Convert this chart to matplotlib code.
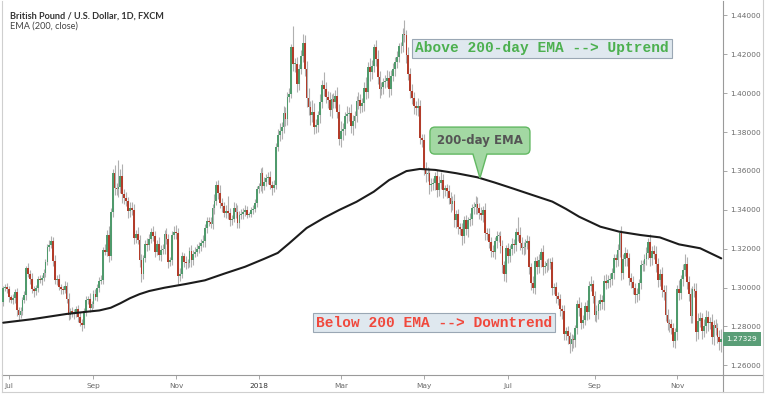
"""GBPUSD daily candles with a 200-day EMA and trend annotations."""

import matplotlib

matplotlib.use("Agg")
import matplotlib.pyplot as plt
import numpy as np
import pandas as pd
from matplotlib.lines import Line2D
from matplotlib.patches import PathPatch
from matplotlib.path import Path
from matplotlib.transforms import IdentityTransform, blended_transform_factory

# ---------------------------------------------------------------- data
first_date = "2017-06-28"
last_date = "2018-12-04"
first_open = 1.2925

# daily closes, one row per trading week (Mon..Fri)
closes = [
    1.2995, 1.3005, 1.2990,                       # Jun 28-30 2017
    1.2950, 1.2935, 1.2945, 1.2975, 1.2885,       # Jul 3
    1.2860, 1.2880, 1.2935, 1.2960, 1.3100,
    1.3070, 1.3045, 1.2990, 1.2980, 1.2995,
    1.3045, 1.3040, 1.3050, 1.3075, 1.3130,
    1.3210, 1.3220, 1.3240, 1.3135, 1.3040,       # Jul 31
    1.3045, 1.3005, 1.2990, 1.2985, 1.3010,
    1.2940, 1.2860, 1.2880, 1.2870, 1.2870,
    1.2890, 1.2850, 1.2820, 1.2805, 1.2880,
    1.2935, 1.2940, 1.2895, 1.2915, 1.2965,       # Aug 28
    1.2950, 1.3000, 1.3035, 1.3040, 1.3195,
    1.3185, 1.3270, 1.3160, 1.3390, 1.3590,
    1.3510, 1.3505, 1.3515, 1.3575, 1.3480,
    1.3460, 1.3445, 1.3395, 1.3410, 1.3400,
    1.3255, 1.3275, 1.3245, 1.3140, 1.3070,       # Oct 2
    1.3150, 1.3225, 1.3220, 1.3250, 1.3285,
    1.3265, 1.3185, 1.3225, 1.3165, 1.3195,
    1.3200, 1.3275, 1.3250, 1.3130, 1.3140,
    1.3270, 1.3285, 1.3280, 1.3060, 1.3070,       # Oct 30
    1.3160, 1.3130, 1.3125, 1.3125, 1.3190,
    1.3140, 1.3175, 1.3185, 1.3200, 1.3215,
    1.3230, 1.3240, 1.3305, 1.3340, 1.3335,
    1.3325, 1.3410, 1.3445, 1.3525, 1.3485,
    1.3435, 1.3420, 1.3385, 1.3395, 1.3385,       # Dec 4
    1.3345, 1.3355, 1.3410, 1.3390, 1.3330,
    1.3375, 1.3380, 1.3390, 1.3400, 1.3375,
    1.3380, 1.3400, 1.3405, 1.3435, 1.3505,
    1.3520, 1.3590, 1.3520, 1.3545, 1.3565,       # Jan 1 2018
    1.3570, 1.3530, 1.3510, 1.3530, 1.3725,
    1.3785, 1.3805, 1.3825, 1.3900, 1.3865,
    1.3980, 1.3995, 1.4235, 1.4150, 1.4150,
    1.4045, 1.4125, 1.4190, 1.4260, 1.4125,
    1.3975, 1.3930, 1.3890, 1.3905, 1.3825,       # Feb 5
    1.3835, 1.3885, 1.3955, 1.4040, 1.4020,
    1.3980, 1.3965, 1.3915, 1.3970, 1.3955,
    1.3985, 1.3905, 1.3765, 1.3805, 1.3815,
    1.3880, 1.3895, 1.3900, 1.3830, 1.3855,       # Mar 5
    1.3880, 1.3960, 1.3965, 1.3935, 1.3950,
    1.4025, 1.4005, 1.4135, 1.4110, 1.4140,
    1.4235, 1.4175, 1.4085, 1.4020, 1.4030,
    1.4055, 1.4065, 1.4080, 1.4020, 1.4090,       # Apr 2
    1.4125, 1.4160, 1.4185, 1.4240, 1.4240,
    1.4305, 1.4300, 1.4195, 1.4100, 1.4010,
    1.3975, 1.3935, 1.3925, 1.3935, 1.3770,
    1.3760, 1.3610, 1.3585, 1.3590, 1.3525,       # Apr 30
    1.3535, 1.3540, 1.3575, 1.3500, 1.3540,
    1.3555, 1.3500, 1.3510, 1.3495, 1.3460,
    1.3430, 1.3445, 1.3345, 1.3380, 1.3310,
    1.3300, 1.3265, 1.3345, 1.3300, 1.3345,       # May 28
    1.3355, 1.3410, 1.3415, 1.3430, 1.3410,
    1.3385, 1.3375, 1.3400, 1.3280, 1.3275,
    1.3235, 1.3190, 1.3185, 1.3240, 1.3265,
    1.3265, 1.3215, 1.3115, 1.3070, 1.3205,
    1.3160, 1.3200, 1.3225, 1.3220, 1.3285,       # Jul 2
    1.3270, 1.3230, 1.3205, 1.3210, 1.3230,
    1.3240, 1.3105, 1.3025, 1.3000, 1.3135,
    1.3105, 1.3140, 1.3185, 1.3105, 1.3110,
    1.3125, 1.3125, 1.3130, 1.3000, 1.3005,       # Jul 30
    1.2955, 1.2940, 1.2890, 1.2880, 1.2760,
    1.2775, 1.2750, 1.2710, 1.2735, 1.2730,
    1.2790, 1.2915, 1.2895, 1.2820, 1.2835,
    1.2905, 1.2875, 1.3010, 1.3020, 1.2955,
    1.2860, 1.2880, 1.2915, 1.2935, 1.2925,       # Sep 3
    1.3035, 1.3025, 1.3040, 1.3045, 1.3075,
    1.3150, 1.3140, 1.3195, 1.3280, 1.3075,
    1.3145, 1.3180, 1.3150, 1.3050, 1.3030,
    1.3000, 1.2960, 1.2965, 1.3025, 1.3115,       # Oct 1
    1.3120, 1.3145, 1.3180, 1.3235, 1.3150,
    1.3190, 1.3175, 1.3120, 1.3040, 1.3070,
    1.2985, 1.2975, 1.2860, 1.2815, 1.2810,
    1.2790, 1.2725, 1.2770, 1.2990, 1.2970,       # Oct 29
    1.3045, 1.3090, 1.3120, 1.3030, 1.2965,
    1.2855, 1.2990, 1.2980, 1.2770, 1.2830,
    1.2845, 1.2775, 1.2800, 1.2850, 1.2815,
    1.2825, 1.2745, 1.2805, 1.2790, 1.2745,
    1.2718, 1.27329,                              # Dec 3-4
]

# wick lengths beyond the body, in pips
upper_wick = [
    12, 15, 20,
    18, 14, 22, 16, 25,  15, 20, 18, 22, 12,  25, 18, 30, 20, 16,  14, 22, 15, 20, 18,
    16, 24, 27, 20, 30,  18, 25, 15, 20, 22,  20, 30, 15, 18, 22,  16, 20, 25, 18, 14,
    20, 18, 30, 15, 22,  25, 20, 18, 22, 15,  30, 25, 45, 20, 20,  40, 30, 142, 35, 60,
    25, 30, 22, 28, 30,  30, 20, 35, 25, 30,  15, 20, 30, 25, 20,  30, 25, 20, 35, 22,
    25, 20, 30, 25, 18,  20, 30, 35, 25, 30,  25, 20, 30, 22, 18,  30, 20, 25, 22, 20,
    18, 30, 20, 25, 22,  30, 20, 35, 25, 30,  40, 25, 20, 30, 75,  25, 20, 30, 25, 35,
    20, 25, 18, 22, 20,  10, 15, 20, 18, 15,
    20, 25, 30, 22, 20,  25, 30, 20, 25, 18,  30, 40, 25, 35, 30,  25, 30, 20, 110, 30,
    35, 25, 30, 45, 40,  40, 50, 30, 60, 45,  30, 25, 40, 30, 70,  35, 30, 40, 25, 30,
    30, 45, 40, 50, 30,  25, 40, 30, 45, 35,  30, 25, 40, 30, 25,  30, 60, 25, 45, 30,
    20, 40, 45, 30, 25,  25, 30, 40, 35, 30,  30, 25, 30, 20, 25,  30, 72, 25, 40, 30,
    35, 30, 25, 40, 30,  20, 30, 35, 30, 25,  30, 25, 20, 30, 35,  40, 30, 20, 25, 30,
    30, 25, 35, 20, 25,  20, 30, 25, 30, 20,  30, 20, 25, 40, 35,  25, 30, 20, 35, 25,
    30, 25, 30, 20, 25,  20, 25, 30, 20, 15,  25, 20, 30, 25, 20,  77, 40, 30, 25, 20,
    30, 25, 20, 35, 20,  25, 30, 20, 35, 25,  20, 25, 20, 25, 20,  25, 20, 25, 20, 30,
    20, 25, 20, 25, 20,  15, 20, 35, 30, 25,  20, 30, 25, 40, 20,  25, 30, 20, 30, 25,
    30, 35, 25, 30, 25,  20, 25, 30, 15, 35,  25, 30, 20, 30, 25,  30, 25, 30, 20, 25,
    20, 25, 30, 20, 40,  25, 30, 40, 30, 25,  35, 30, 40, 30, 25,  30, 25, 20, 25, 50,
    20, 30, 55, 35, 30,  30, 20, 35, 45, 40,  30, 25, 40, 35, 30,  25, 40, 30, 35, 30,
    35, 55,
]
lower_wick = [
    20, 15, 18,
    22, 15, 20, 25, 30,  25, 18, 20, 15, 22,  15, 25, 20, 30, 18,  20, 15, 25, 18, 22,
    15, 20, 18, 25, 22,  25, 18, 22, 20, 15,  18, 25, 20, 22, 30,  20, 25, 18, 30, 15,
    25, 20, 22, 18, 20,  15, 20, 25, 18, 20,  20, 25, 30, 20, 25,  35, 30, 40, 30, 45,
    30, 25, 35, 30, 25,  30, 25, 20, 35, 40,  25, 20, 30, 25, 20,  25, 30, 20, 25, 30,
    20, 30, 25, 30, 20,  25, 20, 30, 40, 25,  20, 25, 30, 25, 20,  35, 25, 20, 25, 20,
    25, 20, 30, 25, 20,  20, 25, 30, 20, 30,  25, 30, 20, 25, 30,  30, 25, 20, 30, 25,
    25, 20, 25, 20, 15,  10, 15, 20, 15, 20,
    20, 25, 35, 20, 25,  30, 25, 35, 20, 25,  25, 30, 40, 30, 35,  30, 25, 20, 35, 40,
    40, 30, 25, 30, 35,  45, 40, 55, 40, 35,  30, 35, 40, 30, 35,  30, 40, 35, 45, 30,
    30, 35, 30, 40, 45,  30, 35, 40, 35, 45,  35, 30, 40, 35, 30,  40, 35, 30, 45, 35,
    30, 35, 40, 45, 30,  35, 30, 35, 40, 30,  30, 35, 30, 25, 35,  30, 35, 40, 30, 35,
    30, 40, 35, 45, 30,  35, 30, 40, 35, 45,  30, 35, 40, 35, 30,  35, 40, 30, 35, 30,
    40, 30, 35, 40, 35,  30, 45, 35, 30, 40,  30, 35, 30, 35, 30,  35, 30, 40, 35, 30,
    30, 35, 30, 40, 35,  30, 35, 40, 35, 40,  35, 30, 35, 40, 30,  30, 35, 30, 40, 35,
    30, 35, 40, 30, 35,  35, 30, 35, 40, 30,  30, 35, 30, 40, 35,  35, 30, 35, 40, 30,
    30, 40, 48, 35, 40,  35, 30, 40, 35, 30,  30, 40, 35, 30, 35,  30, 35, 40, 30, 35,
    40, 35, 30, 35, 30,  30, 35, 30, 40, 35,  30, 35, 40, 35, 30,  35, 40, 35, 30, 35,
    30, 35, 30, 35, 40,  35, 30, 40, 35, 30,  35, 40, 30, 35, 40,  30, 29, 35, 40, 35,
    30, 35, 30, 40, 35,  40, 35, 30, 47, 35,  35, 40, 30, 35, 40,  30, 35, 40, 35, 30,
    40, 48,
]

# EMA(200, close) at a set of bar positions
ema_pos = [0, 15, 33, 44, 50, 56, 61, 66, 71, 76, 84, 95, 105, 115, 126, 136,
           143, 149, 158, 167, 175, 184, 193, 201, 210, 217, 225, 236, 247, 256,
           265, 275, 286, 293, 300, 311, 321, 332, 342, 352, 363, 374]
ema_val = [1.2819, 1.2837, 1.2864, 1.2876, 1.2882, 1.2896, 1.2919, 1.2945,
           1.2966, 1.2982, 1.2999, 1.3018, 1.3037, 1.3071, 1.3107, 1.3148,
           1.3178, 1.3228, 1.3306, 1.3358, 1.3399, 1.3441, 1.3493, 1.3553,
           1.3599, 1.3610, 1.3605, 1.3588, 1.3567, 1.3540, 1.3511, 1.3478,
           1.3442, 1.3405, 1.3364, 1.3313, 1.3287, 1.3270, 1.3258, 1.3222,
           1.3202, 1.3150]

tick_dates = ["2017-07-03", "2017-09-01", "2017-11-01", "2018-01-01", "2018-03-01",
              "2018-05-01", "2018-07-02", "2018-09-03", "2018-11-01"]
tick_labels = ["Jul", "Sep", "Nov", "2018", "Mar", "May", "Jul", "Sep", "Nov"]
price_ticks = [1.26, 1.28, 1.30, 1.32, 1.34, 1.36, 1.38, 1.40, 1.42, 1.44]
last_price = 1.27329

# ---------------------------------------------------------------- style
colors = {
    "up": "#4f9a6c",
    "down": "#b23c2a",
    "wick": "#b0b0b0",
    "ema": "#1c1c1c",
    "frame": "#9a9a9a",
    "label": "#6a6a6a",
}

dates = pd.bdate_range(first_date, last_date)
closes = np.array(closes)
assert len(closes) == len(dates) == len(upper_wick) == len(lower_wick)
opens = np.r_[first_open, closes[:-1]]
highs = np.maximum(opens, closes) + np.array(upper_wick) * 1e-4
lows = np.minimum(opens, closes) - np.array(lower_wick) * 1e-4
xs = np.arange(len(dates))

W, H = 768, 395
fig = plt.figure(figsize=(W / 100, H / 100), dpi=100)
ax = fig.add_axes([2 / W, (H - 375) / H, 721 / W, 374 / H])
ax.set_xlim(-0.65, 374.9)
ax.set_ylim(1.2550, 1.4474)

# candles
ax.vlines(xs, lows, highs, color=colors["wick"], lw=0.8, zorder=2)
body_col = np.where(closes >= opens, colors["up"], colors["down"])
body_h = np.maximum(np.abs(closes - opens), 0.0003)
ax.bar(xs, body_h, bottom=np.minimum(opens, closes), width=0.92,
       color=body_col, lw=0, zorder=3)

# EMA
ax.plot(ema_pos, ema_val, color=colors["ema"], lw=1.5, zorder=4,
        solid_capstyle="round", solid_joinstyle="round")

# axes / ticks
ax.spines["top"].set_visible(False)
ax.spines["left"].set_color("#cfcfcf")
ax.spines["right"].set_color(colors["frame"])
ax.spines["bottom"].set_color(colors["frame"])
for sp in ax.spines.values():
    sp.set_linewidth(0.8)

ax.yaxis.tick_right()
ax.set_yticks(price_ticks)
ax.set_yticklabels([f"{p:.5f}" for p in price_ticks])
ax.tick_params(axis="y", length=3, width=0.6, color=colors["frame"],
               labelsize=5.3, labelcolor=colors["label"], pad=2.5)

tick_pos = [dates.get_loc(pd.Timestamp(d)) for d in tick_dates]
ax.set_xticks(tick_pos)
ax.set_xticklabels(tick_labels)
ax.tick_params(axis="x", length=3, width=0.6, color=colors["frame"],
               labelsize=5.3, labelcolor=colors["label"], pad=3)
for lbl in ax.get_xticklabels():
    if lbl.get_text() == "2018":
        lbl.set_color("#333333")

# outer frame of the screenshot
px = lambda x, y: (x / W, 1 - y / H)
for (x0, y0), (x1, y1), c in [
    ((723, 375), (723, 392), colors["frame"]),
    ((723, 375), (763, 375), colors["frame"]),
    ((763, 0), (763, 392), "#cfcfcf"),
    ((2, 392), (763, 392), "#cfcfcf"),
    ((2, 375), (2, 392), "#cfcfcf"),
]:
    a, b = px(x0, y0), px(x1, y1)
    fig.add_artist(Line2D([a[0], b[0]], [a[1], b[1]], color=c, lw=0.8))

# header
ax.text(0.011, 0.952, "British Pound / U.S. Dollar, 1D, FXCM", transform=ax.transAxes,
        family=["Liberation Sans Narrow", "Lato"], weight="bold", size=6.6,
        color="#333333", va="baseline")
ax.text(0.011, 0.926, "EMA (200, close)", transform=ax.transAxes,
        family=["Liberation Sans Narrow", "Lato"], size=6.6, color="#444444",
        va="baseline")

# trend annotations
ax.text(214.5, 1.4230, "Above 200-day EMA --> Uptrend", family="Liberation Mono",
        weight="bold", size=10.45, color="#4cb04f", ha="left", va="center", zorder=6,
        bbox=dict(boxstyle="square,pad=0.2", fc="#dfe8ef", ec="#9aa7b4", lw=0.8))
ax.text(162.9, 1.2820, "Below 200 EMA --> Downtrend", family="Liberation Mono",
        weight="bold", size=10.45, color="#f0483c", ha="left", va="center", zorder=6,
        bbox=dict(boxstyle="square,pad=0.2", fc="#dfe8ef", ec="#9aa7b4", lw=0.8))

# speech bubble pointing at the EMA
tip_x, tip_y = ax.transData.transform((248.3, 1.3563))
L, R, B, T, r = tip_x - 50, tip_x + 50, tip_y + 24, tip_y + 51, 5
verts = [(L + r, B), (tip_x - 7, B), (tip_x, tip_y), (tip_x + 7, B), (R - r, B),
         (R, B), (R, B + r), (R, T - r), (R, T), (R - r, T), (L + r, T),
         (L, T), (L, T - r), (L, B + r), (L, B), (L + r, B), (L + r, B)]
codes = [Path.MOVETO, Path.LINETO, Path.LINETO, Path.LINETO, Path.LINETO,
         Path.CURVE3, Path.CURVE3, Path.LINETO, Path.CURVE3, Path.CURVE3,
         Path.LINETO, Path.CURVE3, Path.CURVE3, Path.LINETO, Path.CURVE3,
         Path.CURVE3, Path.CLOSEPOLY]
fig.add_artist(PathPatch(Path(verts, codes), fc="#a3d8a3", ec="#62b862", lw=1,
                         transform=IdentityTransform(), zorder=6))
fig.text(tip_x, tip_y + 37.5, "200-day EMA", transform=IdentityTransform(),
         ha="center", va="center", weight="bold", size=8.5, color="#555555", zorder=7)

# last price tag
tr = blended_transform_factory(ax.transAxes, ax.transData)
ax.text(1.005, last_price, f"{last_price:.5f}", transform=tr, ha="left", va="center",
        size=5.3, color="white", clip_on=False,
        bbox=dict(boxstyle="square,pad=0.55", fc="#5a9e77", ec="none"))

fig.savefig("out.png", dpi=100, facecolor="white")
